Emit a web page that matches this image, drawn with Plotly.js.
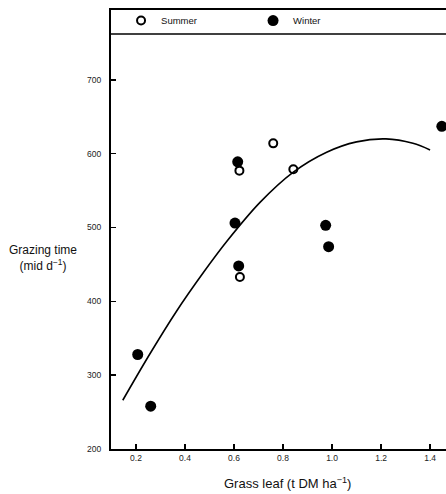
<!DOCTYPE html>
<html>
<head>
<meta charset="utf-8">
<script src="https://cdn.plot.ly/plotly-3.0.1.min.js"></script>
<style>html,body{margin:0;padding:0;background:#fff;}#chart{width:446px;height:494px;}</style>
</head>
<body>
<div id="chart"></div>
<script>
// Summer (open circles)
var summerX = [0.76, 0.622, 0.842, 0.624];
var summerY = [614, 577, 579, 433];
// Winter (filled circles)
var winterX = [1.448, 0.615, 0.604, 0.974, 0.986, 0.619, 0.207, 0.26];
var winterY = [637, 589, 506, 503, 474, 448, 328, 258];
// Fitted curve
var curveX = [0.146, 0.257, 0.366, 0.475, 0.57, 0.706, 0.842, 0.978, 1.10, 1.22, 1.33, 1.40];
var curveY = [266, 329, 387, 439, 481, 534, 575, 602, 616, 620, 614, 605];
// Tick labels
var xTickVals = [0.2, 0.4, 0.6, 0.8, 1.0, 1.2, 1.4];
var xTickText = ['0.2', '0.4', '0.6', '0.8', '1.0', '1.2', '1.4'];
var yTickVals = [200, 300, 400, 500, 600, 700];
var yTickText = ['200', '300', '400', '500', '600', '700'];

var font = 'Liberation Sans, Arial, sans-serif';

var traces = [
  {x: curveX, y: curveY, mode: 'lines', line: {color: '#000', width: 1.6, shape: 'spline'}, showlegend: false, hoverinfo: 'skip'},
  {x: summerX, y: summerY, mode: 'markers', name: 'Summer',
   marker: {symbol: 'circle-open', size: 8, color: '#000', line: {width: 2, color: '#000'}}},
  {x: winterX, y: winterY, mode: 'markers', name: 'Winter',
   marker: {symbol: 'circle', size: 11, color: '#000'}}
];

var layout = {
  width: 446, height: 494,
  margin: {l: 111, r: 0, t: 10, b: 45},
  paper_bgcolor: '#fff', plot_bgcolor: '#fff',
  font: {family: font, color: '#111', size: 8},
  xaxis: {range: [0.098, 1.465], tickvals: xTickVals, ticktext: xTickText,
    showgrid: false, zeroline: false, showline: true, mirror: true, linecolor: '#000', linewidth: 2,
    ticks: 'inside', ticklen: 5, tickwidth: 1.5, tickcolor: '#000',
    tickfont: {size: 8.5, color: '#222'}},
  yaxis: {range: [200, 794.6], tickvals: yTickVals, ticktext: yTickText,
    showgrid: false, zeroline: false, showline: true, linecolor: '#000', linewidth: 2,
    ticks: 'inside', ticklen: 5, tickwidth: 1.5, tickcolor: '#000',
    ticklabelstandoff: 6,
    tickfont: {size: 8.5, color: '#222'}},
  showlegend: true,
  legend: {orientation: 'h', x: 0.03, xanchor: 'left', y: 0.976, yanchor: 'middle',
    bgcolor: 'rgba(0,0,0,0)', font: {size: 9.5, color: '#111'},
    entrywidth: 87, entrywidthmode: 'pixels', itemwidth: 30},
  shapes: [
    {type: 'line', xref: 'paper', yref: 'y', x0: 0, x1: 1, y0: 762, y1: 762, line: {color: '#000', width: 1.5}}
  ],
  annotations: [
    {xref: 'paper', yref: 'y', x: -0.203, y: 459, xanchor: 'center', yanchor: 'middle', showarrow: false,
     text: 'Grazing time<br>(mid d<sup>−1</sup>)', font: {size: 12, color: '#111'}},
    {xref: 'paper', yref: 'paper', x: 0.528, y: -0.077, xanchor: 'center', yanchor: 'middle', showarrow: false,
     text: 'Grass leaf (t DM ha<sup>−1</sup>)', font: {size: 13, color: '#111'}}
  ]
};

Plotly.newPlot('chart', traces, layout, {displayModeBar: false, staticPlot: true});
</script>
</body>
</html>
